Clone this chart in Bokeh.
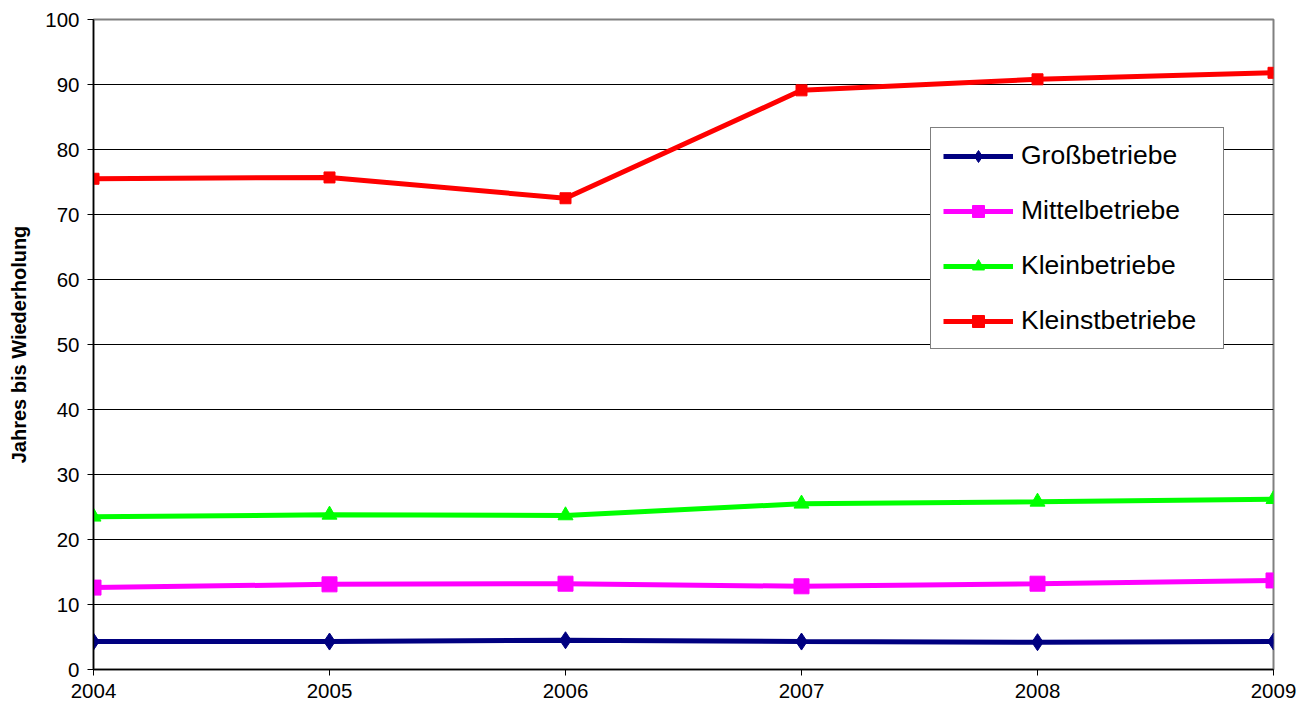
from bokeh.plotting import figure
from bokeh.models import FixedTicker, Legend, LegendItem
from bokeh.embed import file_html
from bokeh.resources import INLINE

years = [2004, 2005, 2006, 2007, 2008, 2009]
gross = [4.3, 4.3, 4.5, 4.3, 4.2, 4.3]
mittel = [12.6, 13.1, 13.2, 12.8, 13.2, 13.7]
klein = [23.5, 23.8, 23.7, 25.5, 25.8, 26.2]
kleinst = [75.5, 75.7, 72.5, 89.1, 90.8, 91.8]

names = ["Großbetriebe", "Mittelbetriebe", "Kleinbetriebe", "Kleinstbetriebe"]
colors = ["#000080", "#FF00FF", "#00FF00", "#FF0000"]
markers = ["diamond", "square", "triangle", "square"]
msizes = [17, 15, 15, 11]
series = [gross, mittel, klein, kleinst]

p = figure(width=1301, height=703, output_backend="svg", toolbar_location=None,
           x_range=(2004, 2009), y_range=(0, 100),
           min_border_left=93, min_border_top=19, min_border_right=28, min_border_bottom=34)

p.outline_line_color = "#808080"
p.outline_line_width = 2
p.xgrid.grid_line_color = None
p.ygrid.grid_line_color = "black"
p.ygrid.grid_line_width = 1

p.xaxis.ticker = FixedTicker(ticks=years)
p.yaxis.ticker = FixedTicker(ticks=list(range(0, 101, 10)))
for ax in (p.xaxis[0], p.yaxis[0]):
    ax.axis_line_color = "black"
    ax.axis_line_width = 1.5
    ax.major_tick_line_color = "black"
    ax.major_tick_out = 6
    ax.major_tick_in = 0
    ax.minor_tick_line_color = None
    ax.major_label_text_font = "Liberation Sans"
    ax.major_label_text_font_size = "20.5px"
    ax.major_label_text_color = "black"
p.xaxis.major_label_standoff = 8
p.yaxis.major_label_standoff = 8
p.yaxis.axis_label = "Jahres bis Wiederholung"
p.yaxis.axis_label_text_font = "Liberation Sans"
p.yaxis.axis_label_text_font_size = "20px"
p.yaxis.axis_label_text_font_style = "bold"
p.yaxis.axis_label_text_color = "black"
p.yaxis.axis_label_standoff = 12

items = []
for name, col, mk, ms, vals in zip(names, colors, markers, msizes, series):
    r1 = p.line(years, vals, line_color=col, line_width=5)
    r2 = p.scatter(years, vals, marker=mk, size=ms, fill_color=col, line_color=col)
    items.append(LegendItem(label=name, renderers=[r1, r2]))

legend = Legend(items=items, location=(837, 320))
legend.label_text_font = "Liberation Sans"
legend.label_text_font_size = "26.5px"
legend.label_text_color = "black"
legend.glyph_width = 70
legend.glyph_height = 30
legend.label_height = 30
legend.label_width = 190
legend.label_standoff = 8
legend.spacing = 24
legend.padding = 12
legend.margin = 0
legend.border_line_color = "black"
legend.border_line_width = 1
legend.background_fill_alpha = 1
p.add_layout(legend, "center")

open("out.html", "w").write(file_html(p, INLINE))
